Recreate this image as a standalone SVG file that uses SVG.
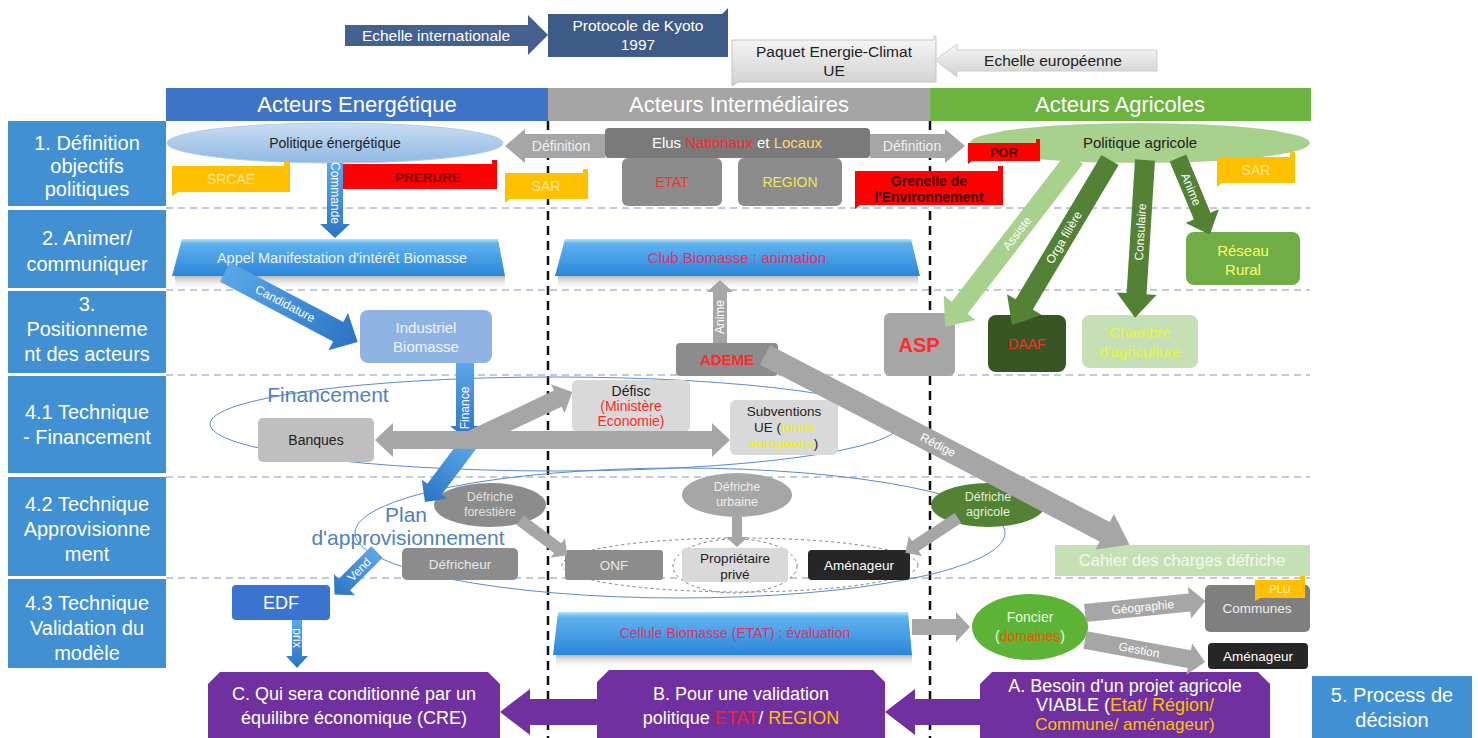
<svg xmlns="http://www.w3.org/2000/svg" width="1478" height="738" viewBox="0 0 1478 738">
<defs>
<linearGradient id="bannerG" x1="0" y1="0" x2="0" y2="1">
<stop offset="0" stop-color="#b7e4fb"/><stop offset="0.12" stop-color="#5fb2ef"/><stop offset="1" stop-color="#2a86d8"/>
</linearGradient>
<linearGradient id="shadowG" x1="0" y1="0" x2="0" y2="1">
<stop offset="0" stop-color="#9a9a9a" stop-opacity="0.7"/><stop offset="1" stop-color="#ffffff" stop-opacity="0"/>
</linearGradient>
<linearGradient id="lightG" x1="0" y1="0" x2="0" y2="1">
<stop offset="0" stop-color="#f7f7f7"/><stop offset="1" stop-color="#d0d0d0"/>
</linearGradient>
<linearGradient id="blueEl" x1="0" y1="0" x2="0" y2="1">
<stop offset="0" stop-color="#c9def2"/><stop offset="1" stop-color="#8fb8e2"/>
</linearGradient>
<linearGradient id="blueArr" x1="0" y1="0" x2="1" y2="0">
<stop offset="0" stop-color="#5aa7e8"/><stop offset="1" stop-color="#2b74c4"/>
</linearGradient>
</defs>
<style>
text{font-family:"Liberation Sans",Arial,sans-serif;text-anchor:middle}
.row{fill:#4190d4}
.rowt{fill:#fff;font-size:20px}
.head{fill:#fff;font-size:22px}
.sep{stroke:#aabbd2;stroke-width:1.5;stroke-dasharray:7 5;fill:none}
.vsep{stroke:#111;stroke-width:2.5;stroke-dasharray:9 6;fill:none}
.s{font-size:14px}
.w{fill:#fff}
.dk{fill:#222}
.red{fill:#ff2a2a}
.garr{fill:#a6a6a6}
.barr{fill:url(#blueArr)}
.alab{fill:#fff;font-size:12px;dominant-baseline:central}
.purple{fill:#7030a0}
.pt{fill:#fff;font-size:18px}
.tp{font-size:15.5px}
.outl{fill:none;stroke:#5b8bc9;stroke-width:1}
.dash{fill:none;stroke:#7f7f7f;stroke-width:1;stroke-dasharray:3 3}
</style>

<g id="top">
<g id="echelle-internationale">
<polygon points="345,25 528,25 528,15 548,35 528,55 528,46 345,46" fill="#44608f"/>
<text x="436" y="41" class="w tp">Echelle internationale</text>
</g>
<g id="kyoto">
<path d="M548,14 L722,14 L728,8 L728,57 L548,57 Z" fill="#3e5a87"/>
<text x="638" y="31" class="w tp">Protocole de Kyoto</text>
<text x="638" y="50" class="w tp">1997</text>
</g>
<g id="paquet">
<path d="M732,40 L934,40 L934,36 L936,36 L936,82 L738,82 L732,86 Z" fill="url(#lightG)" stroke="#c4c4c4"/>
<text x="834" y="57" class="dk tp">Paquet Energie-Climat</text>
<text x="834" y="76" class="dk tp">UE</text>
</g>
<g id="echelle-europeenne">
<polygon points="935,60 957,44 957,50 1157,50 1157,71 957,71 957,77" fill="url(#lightG)" stroke="#cfcfcf"/>
<text x="1053" y="66" class="dk tp">Echelle européenne</text>
</g>
</g>

<g id="headers">
<rect x="166" y="88" width="382" height="33" fill="#3f73c6"/>
<text x="357" y="112" class="head">Acteurs Energétique</text>
<rect x="548" y="88" width="382" height="33" fill="#a5a5a5"/>
<text x="739" y="112" class="head">Acteurs Intermédiaires</text>
<rect x="930" y="88" width="381" height="33" fill="#6db33f"/>
<text x="1120" y="112" class="head">Acteurs Agricoles</text>
</g>

<g id="rows">
<rect class="row" x="8" y="121" width="158" height="85"/>
<text class="rowt" x="87" y="150">1. Définition</text>
<text class="rowt" x="87" y="173">objectifs</text>
<text class="rowt" x="87" y="196">politiques</text>
<rect class="row" x="8" y="210" width="158" height="78"/>
<text class="rowt" x="87" y="245">2. Animer/</text>
<text class="rowt" x="87" y="271">communiquer</text>
<rect class="row" x="8" y="291" width="158" height="82"/>
<text class="rowt" x="87" y="311">3.</text>
<text class="rowt" x="87" y="336">Positionneme</text>
<text class="rowt" x="87" y="361">nt des acteurs</text>
<rect class="row" x="8" y="376" width="158" height="97"/>
<text class="rowt" x="87" y="419">4.1 Technique</text>
<text class="rowt" x="87" y="444">- Financement</text>
<rect class="row" x="8" y="477" width="158" height="99"/>
<text class="rowt" x="87" y="511">4.2 Technique</text>
<text class="rowt" x="87" y="536">Approvisionne</text>
<text class="rowt" x="87" y="561">ment</text>
<rect class="row" x="8" y="579" width="158" height="89"/>
<text class="rowt" x="87" y="610">4.3 Technique</text>
<text class="rowt" x="87" y="635">Validation du</text>
<text class="rowt" x="87" y="660">modèle</text>
<rect class="row" x="1312" y="676" width="160" height="62"/>
<text class="rowt" x="1392" y="702">5. Process de</text>
<text class="rowt" x="1392" y="727">décision</text>
</g>

<g id="grid">
<path class="sep" d="M166,208 H1310 M166,290 H1310 M166,375 H1310 M166,477 H1310 M166,578 H1310"/>
<path class="vsep" d="M548,121 V738 M930,121 V738"/>
</g>

<g id="politique-energetique">
<ellipse cx="335" cy="143" rx="168" ry="20" fill="url(#blueEl)" stroke="#b3cde8"/>
<text x="335" y="148" class="dk s">Politique énergétique</text>
</g>
<g id="srcae">
<path d="M172,166 L284,166 L284,162 L290,162 L290,192 L178,192 L172,196 Z" fill="#ffc000"/>
<text x="231" y="184" fill="#ffe699" font-size="14">SRCAE</text>
</g>
<g id="prerure">
<path d="M333,164 L492,164 L492,160 L497,160 L497,189 L338,189 L333,193 Z" fill="#ff0000"/>
<text x="428" y="182" fill="#7a0000" font-size="13.5" font-weight="bold">PRERURE</text>
</g>
<g id="sar-left">
<path d="M505,173 L583,173 L583,169 L588,169 L588,199 L510,199 L505,203 Z" fill="#ffc000"/>
<text x="546" y="191" fill="#ffe699" font-size="14">SAR</text>
</g>
<g id="elus">
<rect x="605" y="128" width="265" height="30" rx="4" fill="#7a7a7a"/>
<text x="737" y="148" font-size="15" class="w">Elus <tspan class="red">Nationaux </tspan>et <tspan fill="#ffd966">Locaux</tspan></text>
</g>
<g id="etat">
<rect x="622" y="158" width="100" height="48" rx="6" fill="#8c8c8c"/>
<text x="672" y="187" class="red" font-size="14">ETAT</text>
</g>
<g id="region">
<rect x="738" y="158" width="104" height="48" rx="6" fill="#8c8c8c"/>
<text x="790" y="187" fill="#e8e85a" font-size="14">REGION</text>
</g>
<g id="grenelle">
<path d="M855,171 L998,171 L998,166 L1003,166 L1003,205 L860,205 L855,209 Z" fill="#ff0000"/>
<text x="929" y="186" fill="#3a0000" font-size="14" font-weight="bold">Grenelle de</text>
<text x="929" y="202" fill="#3a0000" font-size="14" font-weight="bold">l'Environnement</text>
</g>
<g id="politique-agricole">
<ellipse cx="1140" cy="143" rx="170" ry="20" fill="#a9d18e"/>
<text x="1140" y="148" class="dk" font-size="15">Politique agricole</text>
</g>
<g id="por">
<path d="M968,143 L1036,143 L1036,139 L1040,139 L1040,161 L972,161 L968,164 Z" fill="#ff0000"/>
<text x="1004" y="157" fill="#5a0000" font-size="13" font-weight="bold">POR</text>
</g>
<g id="sar-right">
<path d="M1217,157 L1290,157 L1290,152 L1295,152 L1295,183 L1222,183 L1217,187 Z" fill="#ffc000"/>
<text x="1256" y="175" fill="#ffe699" font-size="14">SAR</text>
</g>

<g id="appel">
<rect x="175" y="276" width="330" height="14" fill="url(#shadowG)"/>
<polygon points="182,239 498,239 505,276 172,276" fill="url(#bannerG)"/>
<text x="342" y="263" fill="#eaf4ff" font-size="14.5">Appel Manifestation d'intérêt Biomasse</text>
</g>
<g id="club">
<rect x="558" y="276" width="360" height="14" fill="url(#shadowG)"/>
<polygon points="565,239 911,239 920,276 555,276" fill="url(#bannerG)"/>
<text x="737" y="263" fill="#e0306a" font-size="15">Club Biomasse : animation</text>
</g>
<g id="reseau-rural">
<rect x="1186" y="232" width="114" height="53" rx="8" fill="#70ad47"/>
<text x="1243" y="256" fill="#ffff66" font-size="15">Réseau</text>
<text x="1243" y="275" fill="#ffff66" font-size="15">Rural</text>
</g>

<g id="industriel">
<rect x="360" y="310" width="132" height="53" rx="8" fill="#8fb4e3"/>
<text x="426" y="333" fill="#eef4ff" font-size="15">Industriel</text>
<text x="426" y="352" fill="#eef4ff" font-size="15">Biomasse</text>
</g>
<g id="ademe">
<rect x="676" y="343" width="102" height="33" rx="4" fill="#8c8c8c"/>
<text x="727" y="365" class="red" font-size="15" font-weight="bold">ADEME</text>
</g>
<g id="asp">
<rect x="884" y="313" width="71" height="63" rx="6" fill="#a6a6a6"/>
<text x="919" y="352" class="red" font-size="20" font-weight="bold">ASP</text>
</g>
<g id="daaf">
<rect x="988" y="315" width="78" height="57" rx="8" fill="#375623"/>
<text x="1027" y="349" class="red" font-size="14">DAAF</text>
</g>
<g id="chambre">
<rect x="1082" y="315" width="116" height="53" rx="8" fill="#c5e0b4"/>
<text x="1140" y="338" fill="#e6f53a" font-size="15">Chambre</text>
<text x="1140" y="357" fill="#e6f53a" font-size="15">d'agriculture</text>
</g>

<g id="financement">
<ellipse class="outl" cx="555" cy="424" rx="345" ry="47"/>
<text x="328" y="402" fill="#4f81bd" font-size="21">Financement</text>
</g>
<g id="banques">
<rect x="258" y="418" width="116" height="44" rx="5" fill="#bfbfbf"/>
<text x="316" y="445" class="dk s">Banques</text>
</g>
<g id="defisc">
<rect x="572" y="380" width="118" height="52" rx="6" fill="#d9d9d9"/>
<text x="631" y="396" class="dk s">Défisc</text>
<text x="631" y="411" class="red s">(Ministère</text>
<text x="631" y="426" class="red s">Economie)</text>
</g>
<g id="subventions">
<rect x="730" y="400" width="108" height="55" rx="6" fill="#d9d9d9"/>
<text x="784" y="416" class="dk" font-size="13.5">Subventions</text>
<text x="784" y="432" class="dk" font-size="13.5">UE (<tspan fill="#f0f000">fonds</tspan></text>
<text x="784" y="448" font-size="13.5"><tspan fill="#f0f000">européens</tspan><tspan fill="#222">)</tspan></text>
</g>

<g id="plan-appro">
<ellipse class="outl" cx="680" cy="533" rx="325" ry="65"/>
<text x="406" y="522" fill="#4f81bd" font-size="21">Plan</text>
<text x="408" y="545" fill="#4f81bd" font-size="21">d'approvisionnement</text>
</g>
<g id="defriche-forestiere">
<ellipse cx="490" cy="505" rx="56" ry="22" fill="#8c8c8c"/>
<text x="490" y="501" fill="#e0e0e0" font-size="12.5">Défriche</text>
<text x="490" y="516" fill="#e0e0e0" font-size="12.5">forestière</text>
</g>
<g id="defricheur">
<rect x="402" y="548" width="116" height="32" rx="5" fill="#8c8c8c"/>
<text x="460" y="569" fill="#e8e8e8" font-size="13.5">Défricheur</text>
</g>
<g id="proprietaires">
<ellipse class="dash" cx="740" cy="565" rx="178" ry="27"/>
</g>
<g id="onf">
<rect x="565" y="550" width="98" height="30" rx="3" fill="#8c8c8c"/>
<text x="614" y="570" fill="#e8e8e8" font-size="13.5">ONF</text>
</g>
<g id="proprietaire-prive">
<ellipse class="dash" cx="735" cy="566" rx="62" ry="27"/>
<rect x="682" y="548" width="106" height="34" rx="4" fill="#d9d9d9"/>
<text x="735" y="563" class="dk" font-size="13.5">Propriétaire</text>
<text x="735" y="579" class="dk" font-size="13.5">privé</text>
</g>
<g id="amenageur-1">
<rect x="808" y="550" width="102" height="30" rx="4" fill="#262626"/>
<text x="859" y="570" class="w" font-size="13.5">Aménageur</text>
</g>
<g id="defriche-urbaine">
<ellipse cx="737" cy="495" rx="55" ry="22" fill="#a6a6a6"/>
<text x="737" y="491" fill="#eeeeee" font-size="12.5">Défriche</text>
<text x="737" y="506" fill="#eeeeee" font-size="12.5">urbaine</text>
</g>
<g id="defriche-agricole">
<ellipse cx="988" cy="505" rx="57" ry="22" fill="#548235"/>
<text x="988" y="501" fill="#e2efd9" font-size="12.5">Défriche</text>
<text x="988" y="516" fill="#e2efd9" font-size="12.5">agricole</text>
</g>
<g id="cahier">
<rect x="1055" y="545" width="255" height="31" fill="#c5e0b4"/>
<text x="1182" y="566" fill="#f2faea" font-size="16.5">Cahier des charges défriche</text>
</g>

<g id="edf">
<rect x="232" y="585" width="98" height="35" rx="4" fill="#3a74d0"/>
<text x="281" y="609" class="w" font-size="18">EDF</text>
</g>
<g id="cellule">
<rect x="556" y="655" width="356" height="14" fill="url(#shadowG)"/>
<polygon points="558,612 908,612 912,655 553,655" fill="url(#bannerG)"/>
<text x="735" y="638" fill="#e0306a" font-size="14">Cellule Biomasse (ETAT) : évaluation</text>
</g>
<g id="foncier">
<ellipse cx="1030" cy="627" rx="58" ry="33" fill="#5cb335"/>
<text x="1030" y="622" fill="#e8ffe0" class="s">Foncier</text>
<text x="1030" y="641" fill="#e8ffe0" class="s">(<tspan fill="#e85a00">domaines</tspan>)</text>
</g>
<g id="communes">
<rect x="1205" y="585" width="105" height="47" rx="5" fill="#7f7f7f"/>
<text x="1257" y="613" fill="#eeeeee" font-size="13.5">Communes</text>
<path d="M1255,580 L1300,580 L1300,576 L1305,576 L1305,598 L1260,598 L1255,601 Z" fill="#ffc000"/>
<text x="1280" y="593" fill="#fff2cc" font-size="11">PLU</text>
</g>
<g id="amenageur-2">
<rect x="1208" y="643" width="100" height="26" rx="4" fill="#262626"/>
<text x="1258" y="661" class="w" font-size="13.5">Aménageur</text>
</g>

<g id="process-c">
<path d="M220,672 L488,672 L500,684 L500,738 L208,738 L208,684 Z" class="purple"/>
<text x="354" y="700" class="pt">C. Qui sera conditionné par un</text>
<text x="354" y="724" class="pt">équilibre économique (CRE)</text>
</g>
<g id="process-b">
<path d="M609,670 L873,670 L885,682 L885,738 L597,738 L597,682 Z" class="purple"/>
<text x="741" y="700" class="pt">B. Pour une validation</text>
<text x="741" y="724" class="pt">politique <tspan fill="#ff2020">ETAT</tspan>/ <tspan fill="#ffc000">REGION</tspan></text>
</g>
<g id="process-a">
<path d="M992,672 L1258,672 L1270,684 L1270,738 L980,738 L980,684 Z" class="purple"/>
<text x="1125" y="692" class="pt" font-size="17">A. Besoin d'un projet agricole</text>
<text x="1125" y="711" class="pt" font-size="17">VIABLE (<tspan fill="#ffc000">Etat/ Région/</tspan></text>
<text x="1125" y="730" font-size="17" style="fill:#ffc000">Commune/ aménageur)</text>
</g>

<g id="connectors">
<polygon points="605,134 525,134 525,129 505,146 525,163 525,158 605,158" fill="#a6a6a6"/>
<text x="561" y="151" fill="#eee" font-size="14">Définition</text>
<polygon points="870,134 945,134 945,129 965,146 945,163 945,158 870,158" fill="#a6a6a6"/>
<text x="912" y="151" fill="#eee" font-size="14">Définition</text>

<g transform="translate(335,163) rotate(90)"><polygon class="barr" points="0,-8 61,-8 61,-15 75,0 61,15 61,8 0,8"/><text x="30" y="0" class="alab" font-size="6">Commande</text></g>
<g transform="translate(225,272) rotate(27.8)"><polygon class="barr" points="0,-11 128,-11 128,-21 150,0 128,21 128,11 0,11"/><text x="68" y="0" class="alab" font-size="14">Candidature</text></g>
<g transform="translate(465,363) rotate(90)"><polygon class="barr" points="0,-9 63,-9 63,-15 75,0 63,15 63,9 0,9"/><text x="45" y="0" class="alab" transform="rotate(180 45 0)">Finance</text></g>
<g transform="translate(470,442) rotate(126.9)"><polygon class="barr" points="0,-9 59,-9 59,-16 75,0 59,16 59,9 0,9"/></g>
<g transform="translate(377,552) rotate(135)"><polygon class="barr" points="0,-8 46,-8 46,-15 60,0 46,15 46,8 0,8"/><text x="25" y="0" class="alab" transform="rotate(180 25 0)">Vend</text></g>
<g transform="translate(297,620) rotate(90)"><polygon class="barr" points="0,-5 36,-5 36,-11 48,0 36,11 36,5 0,5"/><text x="18" y="0" class="alab" font-size="8">prix</text></g>

<g transform="translate(720,343) rotate(-90)"><polygon class="garr" points="0,-7 51,-7 51,-13 63,0 51,13 51,7 0,7"/><text x="26" y="0" class="alab">Anime</text></g>
<g transform="translate(765,355) rotate(27.5)"><polygon class="garr" points="0,-11 383,-11 383,-20 411,0 383,20 383,11 0,11"/><text x="195" y="0" class="alab" font-size="16">Rédige</text></g>
<polygon class="garr" points="375,440 393,423 393,431 712,431 712,423 730,440 712,457 712,449 393,449 393,457"/>
<g transform="translate(470,440) rotate(-25.2)"><polygon class="garr" points="0,-9 97,-9 97,-16 113,0 97,16 97,9 0,9"/></g>
<g transform="translate(520,520) rotate(36.7)"><polygon class="garr" points="0,-6 47,-6 47,-12 59,0 47,12 47,6 0,6"/></g>
<g transform="translate(737,517) rotate(90)"><polygon class="garr" points="0,-5 20,-5 20,-11 30,0 20,11 20,5 0,5"/></g>
<g transform="translate(958,518) rotate(146.6)"><polygon class="garr" points="0,-6 51,-6 51,-12 63,0 51,12 51,6 0,6"/></g>
<g transform="translate(912,627)"><polygon class="garr" points="0,-8 44,-8 44,-15 58,0 44,15 44,8 0,8"/></g>
<g transform="translate(1085,613) rotate(-5.7)"><polygon class="garr" points="0,-9 105,-9 105,-16 121,0 105,16 105,9 0,9"/><text x="58" y="0" class="alab">Géographie</text></g>
<g transform="translate(1085,640) rotate(10.4)"><polygon class="garr" points="0,-9 106,-9 106,-16 122,0 106,16 106,9 0,9"/><text x="55" y="0" class="alab">Gestion</text></g>

<g transform="translate(1075,158) rotate(127.6)"><polygon fill="#a9d18e" points="0,-10 189,-10 189,-20 213,0 189,20 189,10 0,10"/><text x="95" y="0" class="alab" font-size="13" transform="rotate(180 95 0)" fill="#f4fbef">Assiste</text></g>
<g transform="translate(1110,160) rotate(120.7)"><polygon fill="#548235" points="0,-10 168,-10 168,-20 192,0 168,20 168,10 0,10"/><text x="90" y="0" class="alab" font-size="13" transform="rotate(180 90 0)">Orga filière</text></g>
<g transform="translate(1145,160) rotate(93.6)"><polygon fill="#548235" points="0,-10 134,-10 134,-20 158,0 134,20 134,10 0,10"/><text x="72" y="0" class="alab" font-size="13" transform="rotate(180 72 0)">Consulaire</text></g>
<g transform="translate(1178,158) rotate(67.4)"><polygon fill="#548235" points="0,-9 63,-9 63,-18 83,0 63,18 63,9 0,9"/><text x="34" y="0" class="alab" font-size="13">Anime</text></g>

<polygon class="purple" points="597,699 530,699 530,689 500,712 530,735 530,725 597,725"/>
<polygon class="purple" points="980,699 915,699 915,689 885,712 915,735 915,725 980,725"/>
</g>
</svg>
